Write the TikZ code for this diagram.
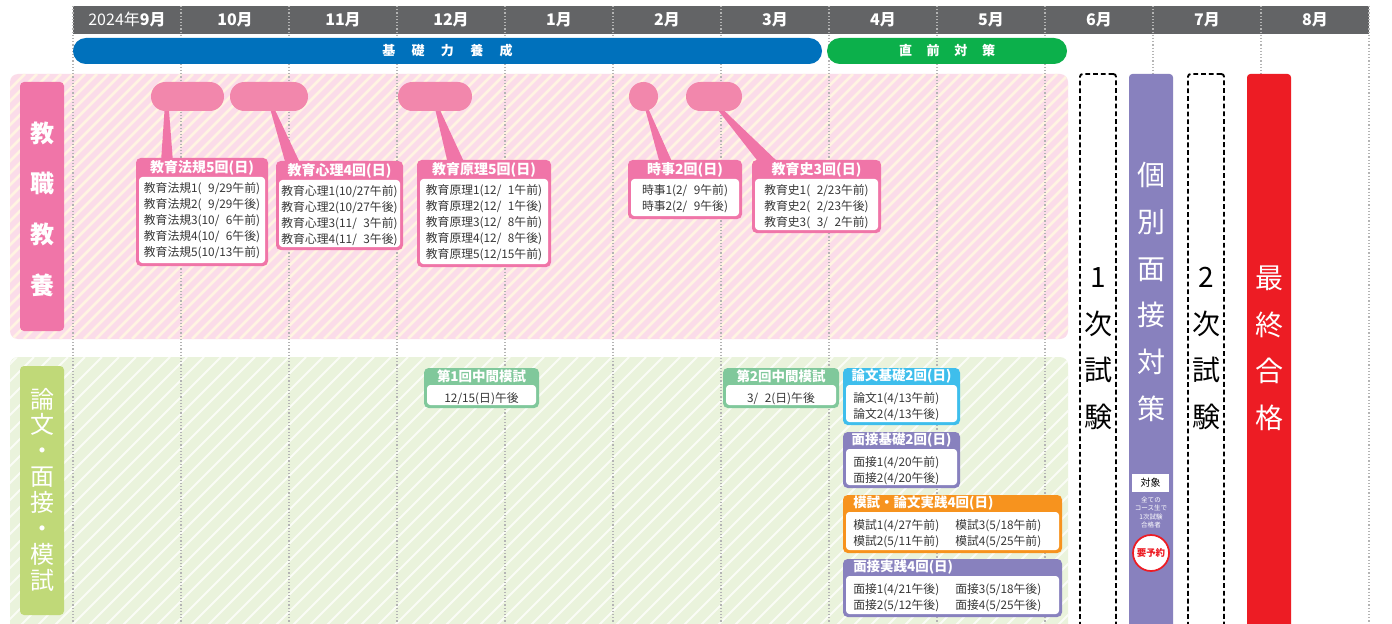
\documentclass[tikz,border=0pt]{standalone}
\usepackage{fontspec}
\setmainfont{Noto Sans CJK JP}
\usetikzlibrary{fit,calc}
\pgfdeclarelayer{back}
\pgfsetlayers{back,main}
\definecolor{hdrgray}{RGB}{99,100,102}
\definecolor{barblue}{RGB}{0,113,188}
\definecolor{bargreen}{RGB}{12,176,75}
\definecolor{pinkc}{RGB}{240,117,168}
\definecolor{blobc}{RGB}{242,135,172}
\definecolor{pinkbg}{RGB}{251,220,233}
\definecolor{pinkst}{RGB}{255,244,226}
\definecolor{greenbg}{RGB}{234,243,220}
\definecolor{greenst}{RGB}{250,252,246}
\definecolor{greenlab}{RGB}{192,217,120}
\definecolor{midgreen}{RGB}{128,200,155}
\definecolor{cyanc}{RGB}{62,190,236}
\definecolor{purplec}{RGB}{136,129,190}
\definecolor{orangec}{RGB}{247,147,30}
\definecolor{redc}{RGB}{237,28,36}
\definecolor{bodyc}{RGB}{55,55,55}
\definecolor{dotc}{RGB}{180,180,180}
\newcommand\lsp{\hspace{12.2pt}}
\newcommand\lspg{\hspace{11pt}}
\newcommand\ph{\phantom{0}}
\newcommand\colA[1]{\makebox[76.5pt][l]{#1}}
% name, colour, x, y, w, h, header height
\newcommand\evframe[7]{%
  \node[inner sep=0pt, outer sep=0pt, fit={(#3,#4) ({#3+#5},{#4+#6})}] (#1) {};
  \fill[#2, rounded corners=3.5pt] (#1.north west) rectangle (#1.south east);
  \fill[white, rounded corners=2.5pt] ($(#1.north west)+(3,#7)$) rectangle ($(#1.south east)+(-3,-3)$);
}
\begin{document}
\begin{tikzpicture}[x=0.75pt,y=-0.75pt,
  month/.style={text=white, font=\fontsize{12pt}{12pt}\selectfont\bfseries, inner sep=0pt},
  barnode/.style={text=white, rounded corners=9.7pt, inner sep=0pt, minimum height=19.5pt, font=\fontsize{9.75pt}{10pt}\selectfont\bfseries},
  labnode/.style={rounded corners=3pt, inner sep=0pt, outer sep=0pt},
  labtxt/.style={text=white, align=center, inner sep=0pt},
  blob/.style={fill=blobc, rounded corners=10.8pt, inner sep=0pt, minimum height=21.75pt},
  hdrp/.style={text=white, inner sep=0pt, font=\fontsize{10.5pt}{12pt}\selectfont\bfseries},
  hdrg/.style={text=white, inner sep=0pt, font=\fontsize{10.1pt}{12pt}\selectfont\bfseries},
  bodyt/.style={text=bodyc, inner sep=0pt, align=left, font=\fontsize{8.85pt}{12.1pt}\selectfont},
  colbox/.style={inner sep=0pt, outer sep=0pt, rounded corners=2.5pt},
  dashbox/.style={draw=black, line width=1.4pt, dash pattern=on 3.6pt off 2.2pt, inner sep=0pt, outer sep=0pt, rounded corners=2pt},
  bigtxt/.style={align=center, inner sep=0pt, font=\fontsize{21pt}{34.9pt}\selectfont},
  grid/.style={draw=dotc, line width=0.9pt, dash pattern=on 0.9pt off 1.5pt},
  tail/.style={fill=pinkc}]
\useasboundingbox (0,0) rectangle (1392,624);
\clip (0,0) rectangle (1392,624);

% ---------- background regions, header band, grid ----------
\begin{pgfonlayer}{back}
  \fill[white] (0,0) rectangle (1392,624);
  \fill[pinkbg, rounded corners=6pt] (10,74) rectangle (1068,339);
  \begin{scope}
    \clip[rounded corners=6pt] (10,74) rectangle (1068,339);
    \foreach \a in {-276,-264,...,1068} \draw[pinkst, line width=1.9pt] (\a,339) -- ++(265,-265);
  \end{scope}
  \fill[greenbg, rounded corners=6pt] (10,357) rectangle (1068,700);
  \begin{scope}
    \clip[rounded corners=6pt] (10,357) rectangle (1068,700);
    \foreach \a in {-300,-283,...,1068} \draw[greenst, line width=1.4pt] (\a,640) -- ++(283,-283);
  \end{scope}
  \fill[hdrgray] (73,6) rectangle (1369,34);
  \foreach \k in {0,...,12} \draw[grid] ({73+108*\k},6) -- ({73+108*\k},624);
\end{pgfonlayer}

% ---------- month header ----------
\node[month] (mon0) at (127,20) {{\mdseries 2024年}9月};
\foreach \k/\t in {1/10月,2/11月,3/12月,4/1月,5/2月,6/3月,7/4月,8/5月,9/6月,10/7月,11/8月}
  \node[month] (mon\k) at ({127+108*\k},20) {\t};

% ---------- phase bars ----------
\node[barnode, fill=barblue, minimum width=561.75pt] (kiso) at (447.5,51) {基\lsp 礎\lsp 力\lsp 養\lsp 成};
\node[barnode, fill=bargreen, minimum width=180pt] (chokuzen) at (947,51) {直\lspg 前\lspg 対\lspg 策};

% ---------- row labels ----------
\node[labnode, fill=pinkc, fit={(20,82) (64,331)}] (labA) {};
\node[labtxt, font=\fontsize{18pt}{38pt}\selectfont\bfseries] (labAt) at (42,209) {教\\職\\教\\養};
\node[labnode, fill=greenlab, fit={(20,366) (64,615)}] (labB) {};
\node[labtxt, font=\fontsize{18pt}{19.4pt}\selectfont] (labBt) at (42,489.5) {論\\文\\・\\面\\接\\・\\模\\試};

% ---------- blobs ----------
\node[blob, minimum width=54.75pt] (b1) at (187.5,96.5) {};
\node[blob, minimum width=58.5pt] (b2) at (269,96.5) {};
\node[blob, minimum width=55.5pt] (b3) at (435,96.5) {};
\node[blob, minimum width=21.75pt] (b4) at (643.5,96.5) {};
\node[blob, minimum width=42pt] (b5) at (714,96.5) {};

% ---------- 教職教養 boxes ----------
\evframe{box1}{pinkc}{136}{158}{132}{108}{19}
\node[hdrp] (box1h) at ($(box1.north)+(0,9.5)$) {教育法規5回(日)};
\node[bodyt, anchor=north] (box1b) at ($(box1.north)+(0,24)$) {教育法規1(\ph9/29午前)\\教育法規2(\ph9/29午後)\\教育法規3(10/\ph6午前)\\教育法規4(10/\ph6午後)\\教育法規5(10/13午前)};

\evframe{box2}{pinkc}{276}{161}{127}{89}{19}
\node[hdrp] (box2h) at ($(box2.north)+(0,9.5)$) {教育心理4回(日)};
\node[bodyt, anchor=north] (box2b) at ($(box2.north)+(0,24)$) {教育心理1(10/27午前)\\教育心理2(10/27午後)\\教育心理3(11/\ph3午前)\\教育心理4(11/\ph3午後)};

\evframe{box3}{pinkc}{417}{160}{134}{107}{19}
\node[hdrp] (box3h) at ($(box3.north)+(0,9.5)$) {教育原理5回(日)};
\node[bodyt, anchor=north] (box3b) at ($(box3.north)+(0,24)$) {教育原理1(12/\ph1午前)\\教育原理2(12/\ph1午後)\\教育原理3(12/\ph8午前)\\教育原理4(12/\ph8午後)\\教育原理5(12/15午前)};

\evframe{box4}{pinkc}{628}{160}{114}{59}{19}
\node[hdrp] (box4h) at ($(box4.north)+(0,9.5)$) {時事2回(日)};
\node[bodyt, anchor=north] (box4b) at ($(box4.north)+(0,24)$) {時事1(2/\ph9午前)\\時事2(2/\ph9午後)};

\evframe{box5}{pinkc}{752}{160}{129}{73}{19}
\node[hdrp] (box5h) at ($(box5.north)+(0,9.5)$) {教育史3回(日)};
\node[bodyt, anchor=north] (box5b) at ($(box5.north)+(0,24)$) {教育史1(\ph2/23午前)\\教育史2(\ph2/23午後)\\教育史3(\ph3/\ph2午前)};

% ---------- callout tails ----------
\begin{pgfonlayer}{back}
  \fill[tail] ($(b1.south west)+(14,-4)$) -- ($(b1.south west)+(18,-4)$) -- ($(box1.north west)+(37,4)$) -- ($(box1.north west)+(25,4)$) -- cycle;
  \fill[tail] ($(b2.south west)+(40,-4)$) -- ($(b2.south west)+(44,-4)$) -- ($(box2.north west)+(25,4)$) -- ($(box2.north west)+(10,4)$) -- cycle;
  \fill[tail] ($(b3.south west)+(37,-4)$) -- ($(b3.south west)+(41,-4)$) -- ($(box3.north west)+(48,4)$) -- ($(box3.north west)+(31,4)$) -- cycle;
  \fill[tail] ($(b4.south west)+(16,-4)$) -- ($(b4.south west)+(19,-4)$) -- ($(box4.north west)+(45,4)$) -- ($(box4.north west)+(32,4)$) -- cycle;
  \fill[tail] ($(b5.south west)+(30,-4)$) -- ($(b5.south west)+(35,-4)$) -- ($(box5.north west)+(28,4)$) -- ($(box5.north west)+(8,4)$) -- cycle;
\end{pgfonlayer}

% ---------- 論文・面接・模試 boxes ----------
\evframe{mid1}{midgreen}{424}{368}{115}{40}{17}
\node[hdrg] (mid1h) at ($(mid1.north)+(0,8.5)$) {第1回中間模試};
\node[bodyt, anchor=north] (mid1b) at ($(mid1.north)+(0,24)$) {12/15(日)午後};

\evframe{mid2}{midgreen}{723}{368}{116}{40}{17}
\node[hdrg] (mid2h) at ($(mid2.north)+(0,8.5)$) {第2回中間模試};
\node[bodyt, anchor=north] (mid2b) at ($(mid2.north)+(0,24)$) {3/\ph2(日)午後};

\evframe{ron}{cyanc}{843}{368}{117}{57}{17}
\node[hdrg] (ronh) at ($(ron.north)+(0,8.5)$) {論文基礎2回(日)};
\node[bodyt, anchor=north west] (ronb) at ($(ron.north west)+(10,24)$) {論文1(4/13午前)\\論文2(4/13午後)};

\evframe{men1}{purplec}{843}{432}{117}{56}{17}
\node[hdrg] (men1h) at ($(men1.north)+(0,8.5)$) {面接基礎2回(日)};
\node[bodyt, anchor=north west] (men1b) at ($(men1.north west)+(10,24)$) {面接1(4/20午前)\\面接2(4/20午後)};

\evframe{mosi}{orangec}{843}{495}{219}{58}{17}
\node[hdrg, anchor=west] (mosih) at ($(mosi.north west)+(10,8.5)$) {模試・論文実践4回(日)};
\node[bodyt, anchor=north west] (mosib) at ($(mosi.north west)+(10,24)$) {\colA{模試1(4/27午前)}模試3(5/18午前)\\\colA{模試2(5/11午前)}模試4(5/25午前)};

\evframe{men2}{purplec}{843}{559}{219}{58}{17}
\node[hdrg, anchor=west] (men2h) at ($(men2.north west)+(10,8.5)$) {面接実践4回(日)};
\node[bodyt, anchor=north west] (men2b) at ($(men2.north west)+(10,24)$) {\colA{面接1(4/21午後)}面接3(5/18午後)\\\colA{面接2(5/12午後)}面接4(5/25午後)};

% ---------- right-hand columns ----------
\node[dashbox, fit={(1080,74) (1116,650)}] (ex1) {};
\node[bigtxt, text=black] (ex1t) at (1098,348.5) {1\\次\\試\\験};

\node[colbox, fill=purplec, fit={(1129,74) (1173,650)}] (kobetsu) {};
\node[bigtxt, text=white, font=\fontsize{21pt}{35.1pt}\selectfont] (kobetsut) at (1151,292) {個\\別\\面\\接\\対\\策};
\node[fill=white, inner sep=0pt, minimum width=27.75pt, minimum height=13.5pt, font=\fontsize{7.5pt}{8pt}\selectfont] (taisho) at (1150.5,483) {対象};
\node[text=white, align=center, inner sep=0pt, font=\fontsize{4.9pt}{6.2pt}\selectfont] (taishot) at (1151,512.5) {全ての\\コース生で\\1次試験\\合格者};
\node[circle, fill=white, draw=redc, line width=1.3pt, minimum size=27pt, inner sep=0pt, text=redc, font=\fontsize{7.1pt}{8pt}\selectfont\bfseries] (yoyaku) at (1151,553) {要予約};

\node[dashbox, fit={(1188,74) (1224,650)}] (ex2) {};
\node[bigtxt, text=black] (ex2t) at (1206,348.5) {2\\次\\試\\験};

\node[colbox, fill=redc, fit={(1247,74) (1291,650)}] (saishu) {};
\node[bigtxt, text=white] (saishut) at (1269,348.5) {最\\終\\合\\格};
\end{tikzpicture}
\end{document}
